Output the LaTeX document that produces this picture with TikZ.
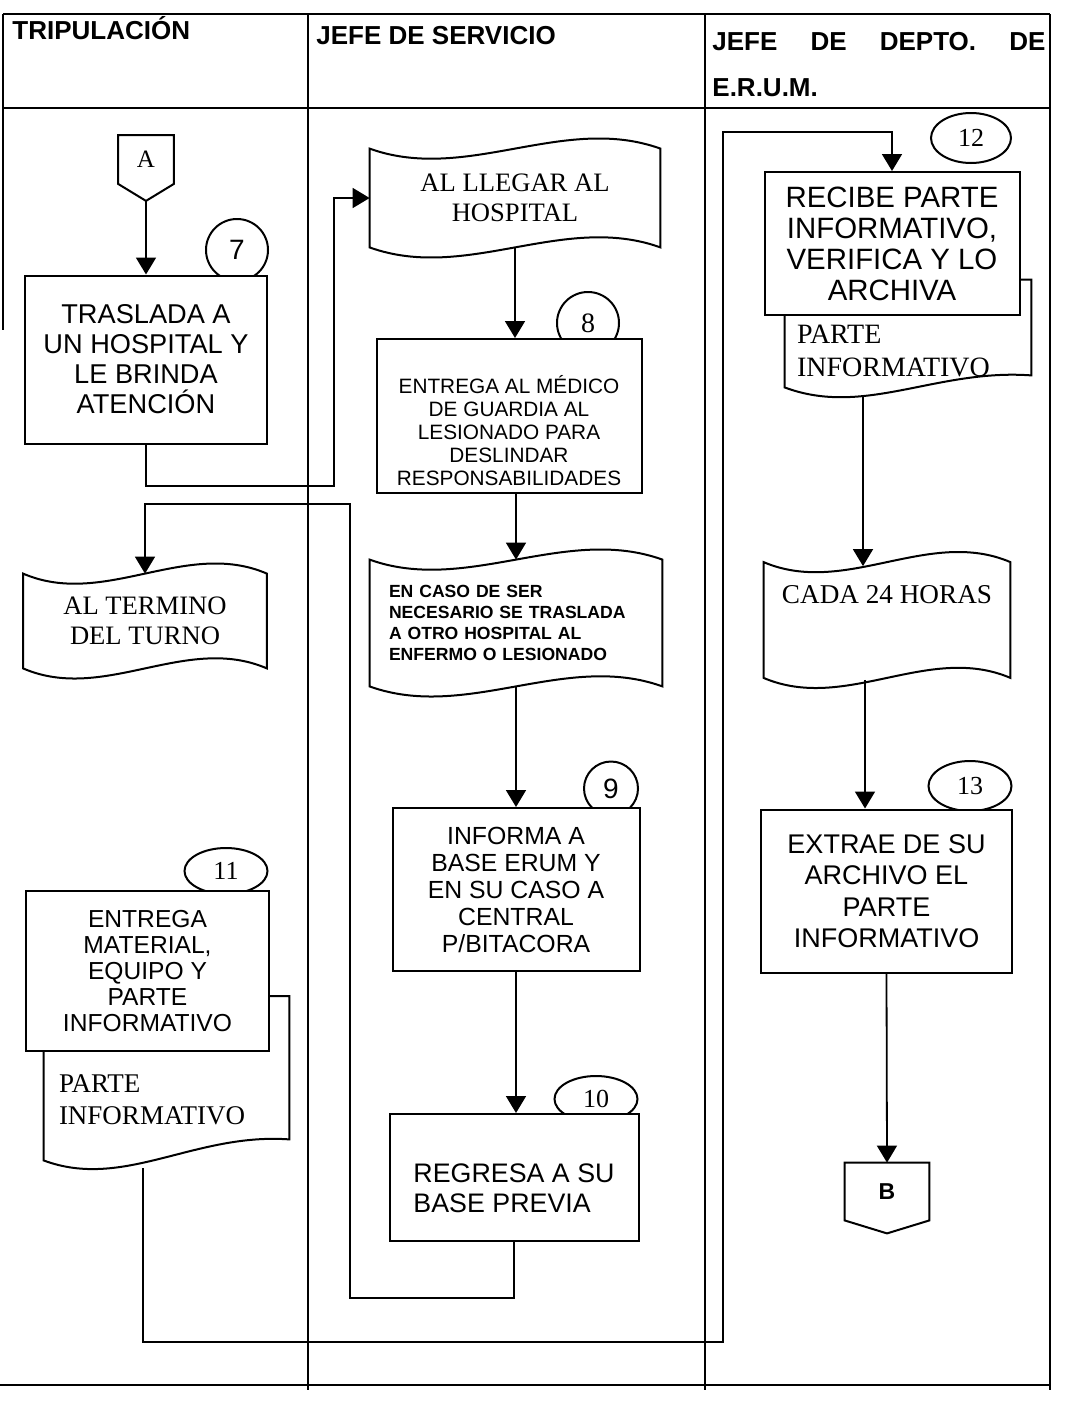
\documentclass[tikz,border=0pt]{standalone}
\usepackage{fontspec}
\setmainfont{Liberation Serif}
\setsansfont{Liberation Sans}
\usetikzlibrary{arrows.meta, shapes.geometric}

% off-page connector: node, depth of the point
\newcommand{\offpage}[2]{%
  \draw[ln] (#1.north west) -- (#1.north east) -- (#1.south east)
    -- ([yshift=-#2]#1.south) -- (#1.south west) -- cycle;}
% document sheet: node, extra height on top, rise of the right corner
\newcommand{\docshape}[3]{%
  \draw[ln] ([yshift=#2]#1.north west) -- (#1.south west)
    .. controls +(80,30) and +(-95,-7) .. ([yshift=#3]#1.south east)
    -- ([yshift=#2]#1.north east) -- cycle;}
% waving flag: node, a third of its width, bend
\newcommand{\flagshape}[3]{%
  \draw[ln] (#1.north west) .. controls +(#2,#3) and +(-#2,-#3) .. (#1.north east)
    -- (#1.south east) .. controls +(-#2,-#3) and +(#2,#3) .. (#1.south west) -- cycle;}

\begin{document}
\begin{tikzpicture}[x=0.5pt, y=-0.5pt,
  >={Triangle[width=10pt,length=8.5pt]},
  ln/.style={line width=1pt},
  flow/.style={line width=0.9pt, ->},
  hdr/.style={font=\sffamily\bfseries\fontsize{13}{23}\selectfont, inner sep=0pt},
  stepbox/.style={draw, ln, fill=white, align=center, inner sep=2pt},
  flag/.style={align=center, inner sep=2pt, font=\rmfamily\fontsize{13.3}{15}\selectfont},
  doc/.style={align=left, inner xsep=0pt, inner ysep=0pt},
  num/.style={draw, ln, circle, minimum size=31pt, inner sep=0pt},
  oval/.style={draw, ln, ellipse, minimum width=41.5pt, minimum height=23pt, inner sep=0pt,
    font=\rmfamily\fontsize{13}{13}\selectfont},
  conn/.style={inner sep=0pt, minimum width=27.5pt, minimum height=24pt}]
\useasboundingbox (0,0) rectangle (1066,1403);

% table
\draw[ln] (3,14) -- (1050,14);
\draw[ln] (3,108) -- (1050,108);
\draw[ln] (0,1385) -- (1050,1385);
\draw[ln] (3,14) -- (3,330);
\draw[ln] (308,14) -- (308,1390);
\draw[ln] (705,14) -- (705,1390);
\draw[ln] (1050,14) -- (1050,1390);

\node[hdr, anchor=base west] (h1) at (12,39) {TRIPULACIÓN};
\node[hdr, anchor=base west] (h2) at (316,44) {JEFE DE SERVICIO};
\node[hdr, anchor=north west, text width=166.5pt, align=left] (h3) at (712,32)
  {JEFE\hfill DE\hfill DEPTO.\hfill DE\\E.R.U.M.};

% tripulacion
\node[conn, font=\rmfamily\fontsize{12.5}{12.5}\selectfont] (conA) at (146,159.5) {A};
\offpage{conA}{8.5pt}
\node[num, font=\sffamily\fontsize{14}{14}\selectfont] (n7) at (237,250) {7};
\node[stepbox, minimum width=121pt, minimum height=84pt, font=\sffamily\fontsize{13.6}{15}\selectfont]
  (box7) at (146,359.5) {TRASLADA A\\UN HOSPITAL Y\\LE BRINDA\\ATENCIÓN};
\node[flag, minimum width=121.5pt, minimum height=47pt] (turno) at (145,621) {AL TERMINO\\DEL TURNO};
\flagshape{turno}{81}{35}
\node[oval] (n11) at (226,871) {11};
\node[doc, minimum width=122.5pt, minimum height=60pt, text width=107.5pt,
  font=\rmfamily\fontsize{13.5}{16}\selectfont] (doc11) at (166.5,1100) {PARTE\\INFORMATIVO};
\docshape{doc11}{21.75pt}{10.5pt}
\node[stepbox, minimum width=121.5pt, minimum height=80pt, font=\sffamily\fontsize{12.3}{13}\selectfont]
  (box11) at (147.5,971) {ENTREGA\\MATERIAL,\\EQUIPO Y\\PARTE\\INFORMATIVO};

% jefe de servicio
\node[flag, minimum width=145pt, minimum height=49pt] (llegar) at (515,198) {AL LLEGAR AL\\HOSPITAL};
\flagshape{llegar}{97}{35}
\node[num, font=\rmfamily\fontsize{14}{14}\selectfont] (n8) at (588,323) {8};
\node[stepbox, minimum width=132.5pt, minimum height=77pt, font=\sffamily\fontsize{10.4}{11.5}\selectfont]
  (box8) at (509,416) {\mbox{}\\[12pt]ENTREGA AL MÉDICO\\DE GUARDIA AL\\LESIONADO PARA\\DESLINDAR\\RESPONSABILIDADES};
\node[flag, minimum width=146pt, minimum height=63pt, align=left, text width=127pt, inner xsep=0pt,
  font=\sffamily\bfseries\fontsize{8.8}{10.5}\selectfont] (caso) at (516,623)
  {EN CASO DE SER\\NECESARIO SE TRASLADA\\A OTRO HOSPITAL AL\\ENFERMO O LESIONADO};
\flagshape{caso}{97}{35}
\node[num, minimum size=27pt, font=\sffamily\fontsize{14}{14}\selectfont] (n9) at (611,788.5) {9};
\node[stepbox, minimum width=123.5pt, minimum height=81.5pt, font=\sffamily\fontsize{12.4}{13.5}\selectfont]
  (box9) at (516,889.5) {INFORMA A\\BASE ERUM Y\\EN SU CASO A\\CENTRAL\\P/BITACORA};
\node[oval] (n10) at (596,1099) {10};
\node[stepbox, minimum width=124.5pt, minimum height=63.5pt, align=left,
  font=\sffamily\fontsize{13.4}{15}\selectfont] (box10) at (514,1177.5) {\mbox{}\\[5.6pt]REGRESA A SU\\BASE PREVIA};

% jefe de depto
\node[oval, minimum width=40pt, minimum height=25pt] (n12) at (971,138) {12};
\node[doc, minimum width=123pt, minimum height=36.5pt, text width=111pt,
  font=\rmfamily\fontsize{14}{16.5}\selectfont] (doc12) at (908,350.5) {PARTE\\INFORMATIVO};
\docshape{doc12}{17pt}{6pt}
\node[stepbox, minimum width=127.5pt, minimum height=71.5pt, font=\sffamily\fontsize{14.7}{15.5}\selectfont]
  (box12) at (892,243.5) {RECIBE PARTE\\INFORMATIVO,\\VERIFICA Y LO\\ARCHIVA};
\node[flag, minimum width=123pt, minimum height=57.5pt, text depth=25.5pt,
  font=\rmfamily\fontsize{13.6}{15}\selectfont] (cada) at (887,620) {CADA 24 HORAS};
\flagshape{cada}{82}{35}
\node[oval, minimum height=25pt] (n13) at (970,786) {13};
\node[stepbox, minimum width=125.5pt, minimum height=81.5pt, font=\sffamily\fontsize{13.5}{15.75}\selectfont]
  (box13) at (886.5,891) {EXTRAE DE SU\\ARCHIVO EL\\PARTE\\INFORMATIVO};
\node[conn, minimum width=42pt, minimum height=28.5pt, font=\sffamily\bfseries\fontsize{11.5}{11.5}\selectfont]
  (conB) at (887,1191.5) {B};
\offpage{conB}{6.5pt}

% connectors
\coordinate (c1) at (334,486);
\coordinate (c2a) at (350,1298);
\coordinate (c2b) at (350,504);
\coordinate (c3a) at (723,1342);
\coordinate (c3b) at (723,132);

\draw[flow] ([yshift=-8.5pt]conA.south) -- (box7.north);
\draw[flow] (box7.south) |- (c1) |- (llegar.west);
\draw[flow] (llegar.south) -- (llegar.south |- box8.north);
\draw[flow] (box8.south -| caso.north) -- (caso.north);
\draw[flow] (caso.south) -- (caso.south |- box9.north);
\draw[flow] (box9.south) -- (box9.south |- box10.north);
\draw[flow] (box10.south) |- (c2a) |- (c2b) -| (turno.north);
\draw[flow] ([xshift=-11.75pt,yshift=-4pt]doc11.south) |- (c3a) |- (c3b) -| (box12.north);
\draw[flow] ([xshift=-22.5pt,yshift=-4pt]doc12.south) -- ([xshift=-22.5pt,yshift=-2pt]doc12.south |- cada.north);
\draw[flow] ([xshift=-11pt,yshift=-1pt]cada.south) -- ([xshift=-11pt]cada.south |- box13.north);
\draw[flow] (box13.south) -- (conB.north);
\end{tikzpicture}
\end{document}
